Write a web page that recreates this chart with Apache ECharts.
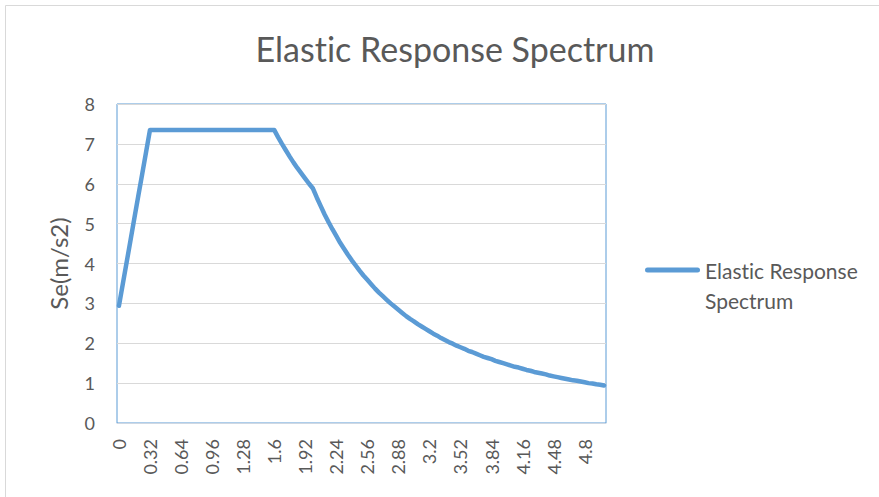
<!DOCTYPE html>
<html>
<head>
<meta charset="utf-8">
<script src="https://cdn.jsdelivr.net/npm/echarts@6/dist/echarts.min.js"></script>
<style>
  html, body { margin: 0; padding: 0; background: #fff; }
  #chart { width: 879px; height: 497px; }
  #chart text { font-variant-ligatures: none; }
</style>
</head>
<body>
<div id="chart"></div>
<script>
// Period T (s), one category every 0.04 s
const periods = [
  '0','0.04','0.08','0.12','0.16','0.2','0.24','0.28','0.32','0.36','0.4','0.44','0.48','0.52','0.56','0.6',
  '0.64','0.68','0.72','0.76','0.8','0.84','0.88','0.92','0.96','1','1.04','1.08','1.12','1.16','1.2','1.24',
  '1.28','1.32','1.36','1.4','1.44','1.48','1.52','1.56','1.6','1.64','1.68','1.72','1.76','1.8','1.84','1.88',
  '1.92','1.96','2','2.04','2.08','2.12','2.16','2.2','2.24','2.28','2.32','2.36','2.4','2.44','2.48','2.52',
  '2.56','2.6','2.64','2.68','2.72','2.76','2.8','2.84','2.88','2.92','2.96','3','3.04','3.08','3.12','3.16',
  '3.2','3.24','3.28','3.32','3.36','3.4','3.44','3.48','3.52','3.56','3.6','3.64','3.68','3.72','3.76','3.8',
  '3.84','3.88','3.92','3.96','4','4.04','4.08','4.12','4.16','4.2','4.24','4.28','4.32','4.36','4.4','4.44',
  '4.48','4.52','4.56','4.6','4.64','4.68','4.72','4.76','4.8','4.84','4.88','4.92','4.96','5'
];

// Spectral acceleration Se (m/s2)
const seValues = [
  2.94, 3.49, 4.04, 4.59, 5.15, 5.70, 6.25, 6.80, 7.35, 7.35, 7.35, 7.35, 7.35, 7.35, 7.35, 7.35,
  7.35, 7.35, 7.35, 7.35, 7.35, 7.35, 7.35, 7.35, 7.35, 7.35, 7.35, 7.35, 7.35, 7.35, 7.35, 7.35,
  7.35, 7.35, 7.35, 7.35, 7.35, 7.35, 7.35, 7.35, 7.35, 7.17, 7.00, 6.84, 6.68, 6.53, 6.39, 6.26,
  6.13, 6.00, 5.88, 5.65, 5.44, 5.23, 5.04, 4.86, 4.69, 4.52, 4.37, 4.22, 4.08, 3.95, 3.82, 3.70,
  3.59, 3.48, 3.37, 3.27, 3.18, 3.09, 3.00, 2.92, 2.84, 2.76, 2.68, 2.61, 2.55, 2.48, 2.42, 2.36,
  2.30, 2.24, 2.19, 2.13, 2.08, 2.03, 1.99, 1.94, 1.90, 1.86, 1.81, 1.78, 1.74, 1.70, 1.66, 1.63,
  1.60, 1.56, 1.53, 1.50, 1.47, 1.44, 1.41, 1.39, 1.36, 1.33, 1.31, 1.28, 1.26, 1.24, 1.22, 1.19,
  1.17, 1.15, 1.13, 1.11, 1.09, 1.07, 1.06, 1.04, 1.02, 1.00, 0.99, 0.97, 0.96, 0.94
];

const yTicks = { min: 0, max: 8, step: 1 };

const seriesName = 'Elastic Response Spectrum';
const titleText = 'Elastic Response Spectrum';
const yAxisTitle = 'Se(m/s2)';

const textColor = '#595959';
const lineColor = '#5b9bd5';
const fontFamily = 'Lato, "Open Sans", sans-serif';

const chart = echarts.init(document.getElementById('chart'), null, { renderer: 'svg' });

chart.setOption({
  backgroundColor: '#ffffff',
  animation: false,
  graphic: [{
    type: 'rect',
    silent: true,
    shape: { x: 5.5, y: 5.5, width: 900, height: 520 },
    style: { fill: 'none', stroke: '#d9d9d9', lineWidth: 1 }
  }],
  title: {
    text: titleText,
    left: 450,
    textAlign: 'center',
    top: 26,
    textStyle: { color: textColor, fontFamily: fontFamily, fontSize: 34, fontWeight: 'normal' }
  },
  legend: {
    left: 640,
    top: 220,
    orient: 'vertical',
    itemWidth: 55,
    itemHeight: 5,
    itemGap: 5,
    icon: 'path://M2.5,0 H52.5 A2.5,2.5 0 0 1 52.5,5 H2.5 A2.5,2.5 0 0 1 2.5,0 Z',
    data: [seriesName],
    formatter: () => '\nElastic Response\nSpectrum',
    itemStyle: { color: lineColor },
    textStyle: {
      color: textColor, fontFamily: fontFamily, fontSize: 21, lineHeight: 30
    }
  },
  grid: { left: 117, right: 273, top: 104, bottom: 74, containLabel: false,
          show: true, borderColor: lineColor, borderWidth: 1 },
  xAxis: {
    type: 'category',
    data: periods,
    boundaryGap: true,
    axisLine: { show: true, lineStyle: { color: '#cfd8e3', width: 1 } },
    axisTick: { show: false },
    axisLabel: {
      interval: 7,
      rotate: 90,
      margin: 16,
      color: textColor,
      fontFamily: fontFamily,
      fontSize: 18
    },
    splitLine: { show: false }
  },
  yAxis: {
    type: 'value',
    min: yTicks.min,
    max: yTicks.max,
    interval: yTicks.step,
    name: yAxisTitle,
    nameLocation: 'middle',
    nameGap: 47,
    nameRotate: 90,
    nameTextStyle: { color: textColor, fontFamily: fontFamily, fontSize: 24 },
    axisLine: { show: false },
    axisTick: { show: false },
    axisLabel: { color: textColor, fontFamily: fontFamily, fontSize: 18, margin: 22 },
    splitLine: { show: true, lineStyle: { color: '#d9d9d9', width: 1 } }
  },
  series: [{
    name: seriesName,
    type: 'line',
    data: seValues,
    showSymbol: false,
    symbol: 'none',
    lineStyle: { color: lineColor, width: 4.5, join: 'round', cap: 'round' },
    itemStyle: { color: lineColor }
  }]
});
</script>
</body>
</html>
